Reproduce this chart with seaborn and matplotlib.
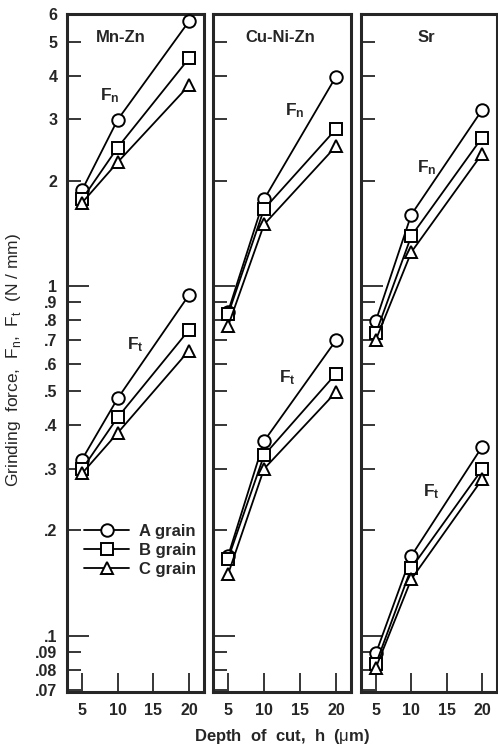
import numpy as np
import pandas as pd
import seaborn as sns
import matplotlib.pyplot as plt

sns.set_style('ticks')
plt.rcParams['font.family'] = ['Liberation Sans', 'DejaVu Sans']
plt.rcParams['mathtext.fontset'] = 'custom'
plt.rcParams['mathtext.rm'] = 'Liberation Sans'
plt.rcParams['mathtext.bf'] = 'Liberation Sans:bold'

# depth of cut (um)
depth = [5, 10, 20]
grains = ['A grain', 'B grain', 'C grain']

# Mn-Zn
mnzn_fn_a = [1.88, 2.99, 5.72]
mnzn_fn_b = [1.77, 2.49, 4.48]
mnzn_fn_c = [1.73, 2.26, 3.75]
mnzn_ft_a = [0.319, 0.477, 0.943]
mnzn_ft_b = [0.299, 0.421, 0.749]
mnzn_ft_c = [0.291, 0.380, 0.654]

# Cu-Ni-Zn
cunizn_fn_a = [0.845, 1.77, 3.97]
cunizn_fn_b = [0.830, 1.66, 2.81]
cunizn_fn_c = [0.769, 1.50, 2.51]
cunizn_ft_a = [0.169, 0.360, 0.699]
cunizn_ft_b = [0.166, 0.328, 0.561]
cunizn_ft_c = [0.150, 0.300, 0.497]

# Sr
sr_fn_a = [0.796, 1.60, 3.19]
sr_fn_b = [0.733, 1.39, 2.66]
sr_fn_c = [0.702, 1.25, 2.39]
sr_ft_a = [0.089, 0.169, 0.347]
sr_ft_b = [0.083, 0.156, 0.299]
sr_ft_c = [0.081, 0.145, 0.280]

panels = [
    ('Mn-Zn', [mnzn_fn_a, mnzn_fn_b, mnzn_fn_c], [mnzn_ft_a, mnzn_ft_b, mnzn_ft_c]),
    ('Cu-Ni-Zn', [cunizn_fn_a, cunizn_fn_b, cunizn_fn_c], [cunizn_ft_a, cunizn_ft_b, cunizn_ft_c]),
    ('Sr', [sr_fn_a, sr_fn_b, sr_fn_c], [sr_ft_a, sr_ft_b, sr_ft_c]),
]

major_y = [0.1, 1]
minor_y = [0.07, 0.08, 0.09, 0.2, 0.3, 0.4, 0.5, 0.6, 0.7, 0.8, 0.9, 2, 3, 4, 5, 6]
minor_lbl = ['.07', '.08', '.09', '.2', '.3', '.4', '.5', '.6', '.7', '.8', '.9',
             '2', '3', '4', '5', '6']

# text positions in axes fraction: title, Fn label, Ft label
text_pos = [
    ((0.39, 0.966), (0.31, 0.88), (0.50, 0.512)),
    ((0.485, 0.966), (0.59, 0.858), (0.54, 0.463)),
    ((0.48, 0.966), (0.48, 0.773), (0.52, 0.295)),
]

fig = plt.figure(figsize=(4.98, 7.54), dpi=100)
lefts = [67, 213, 361]
widths = [137, 138, 136]
axes = [fig.add_axes([l / 498, 1 - 692 / 754, w / 498, 678 / 754]) for l, w in zip(lefts, widths)]

markers = {'A grain': 'o', 'B grain': 's', 'C grain': '^'}

for i, (ax, (name, fn, ft)) in enumerate(zip(axes, panels)):
    for force in [fn, ft]:
        df = pd.DataFrame({
            'h': depth * 3,
            'F': force[0] + force[1] + force[2],
            'grain': np.repeat(grains, 3),
        })
        sns.lineplot(data=df, x='h', y='F', style='grain', markers=markers, dashes=False,
                     color='black', lw=1.3, markerfacecolor='white', markeredgecolor='black',
                     markeredgewidth=1.4, markersize=9, legend=False, ax=ax)
    for ln in ax.lines:
        ln.set_zorder(3)
    ax.set_yscale('log')
    ax.set_ylim(0.069, 6)
    ax.set_xlim(2.9, 22.1)
    ax.set_xticks([5, 10, 15, 20])
    ax.set_yticks(major_y)
    ax.set_yticks(minor_y, minor=True)
    if i == 0:
        ax.set_yticklabels(['.1', '1'])
        ax.set_yticklabels(minor_lbl, minor=True)
    else:
        ax.set_yticklabels([])
        ax.set_yticklabels([], minor=True)
    ax.tick_params(axis='y', which='major', direction='in', length=16, width=1.3, pad=7,
                   labelsize=11.5)
    ax.tick_params(axis='y', which='minor', direction='in', length=10, width=1.3, pad=7,
                   labelsize=11.5)
    ax.tick_params(axis='x', direction='in', length=14, width=1.3, pad=8, labelsize=11.5)
    for lab in ax.get_xticklabels() + ax.get_yticklabels() + ax.get_yticklabels(minor=True):
        lab.set_fontweight('bold')
    for sp in ax.spines.values():
        sp.set_visible(True)
        sp.set_linewidth(2.2)
    ax.set_xlabel('')
    ax.set_ylabel('')
    (tx, ty), (fnx, fny), (ftx, fty) = text_pos[i]
    ax.text(tx, ty, name, transform=ax.transAxes, ha='center', va='center',
            fontsize=12, fontweight='bold')
    ax.text(fnx, fny, r'$\mathbf{F_n}$', transform=ax.transAxes, ha='center', va='center',
            fontsize=12.5)
    ax.text(ftx, fty, r'$\mathbf{F_t}$', transform=ax.transAxes, ha='center', va='center',
            fontsize=12.5)

leg = axes[0].legend(axes[0].lines[:3], grains, loc='upper left',
                     bbox_to_anchor=(0.04, 0.265), frameon=False, handlelength=2.7,
                     handletextpad=0.6, labelspacing=0.25, borderaxespad=0.3,
                     prop={'size': 12, 'weight': 'bold'})

fig.text(282 / 498, 1 - 737 / 754, r'Depth  of  cut,  h  ($\mathrm{\mu}$m)', ha='center',
         va='center', fontsize=12, fontweight='bold')
fig.text(14 / 498, 1 - 360 / 754,
         r'Grinding  force,  F$_\mathrm{n}$,  F$_\mathrm{t}$  (N / mm)',
         ha='center', va='center', rotation=90, fontsize=12.5)

fig.savefig('out.png', dpi=100)
